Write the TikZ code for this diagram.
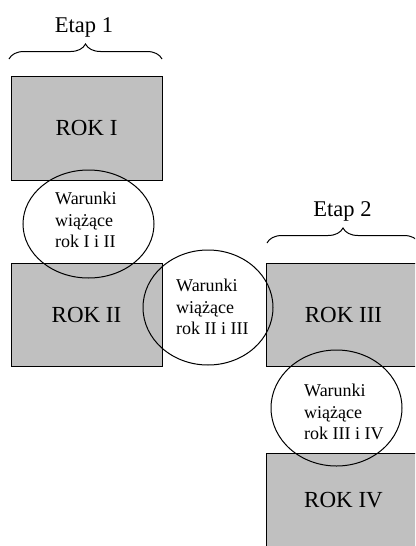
\documentclass[tikz,border=0pt]{standalone}
\usepackage{fontspec}
\setmainfont{Liberation Serif}
\usetikzlibrary{shapes.geometric,decorations.pathreplacing}
\definecolor{boxgray}{RGB}{192,192,192}
\begin{document}
\begin{tikzpicture}[x=1pt,y=-1pt,
  rokbox/.style={draw=black,fill=boxgray,line width=1pt,inner sep=0pt,
    font=\fontsize{23}{27}\selectfont},
  cond/.style={draw=black,line width=1pt,ellipse,inner sep=0pt},
  condtext/.style={anchor=north west,inner sep=0pt,align=left,
    font=\fontsize{18}{21.5}\selectfont},
  stage/.style={anchor=base,inner sep=0pt,font=\fontsize{22.5}{27}\selectfont},
  stagebrace/.style={decorate,decoration={brace,amplitude=15pt},line width=1pt}]
\useasboundingbox (0,0) rectangle (415,546);
\clip (0,0) rectangle (415,546);

% yearly blocks
\node[rokbox,minimum width=151pt,minimum height=104pt] (r1) at (86.5,128) {ROK I};
\node[rokbox,minimum width=151pt,minimum height=103pt] (r2) at (86.5,314.5) {ROK II};
\node[rokbox,minimum width=155pt,minimum height=103pt] (r3) at (343.5,314.5) {ROK III};
\node[rokbox,minimum width=155pt,minimum height=95pt] (r4) at (343.5,500.5) {ROK IV};

% linking conditions between consecutive years
\node[cond,minimum width=131pt,minimum height=108pt] (e1) at (88.5,224) {};
\node[cond,minimum width=130pt,minimum height=115pt] (e2) at (208,307.5) {};
\node[cond,minimum width=131pt,minimum height=116pt] (e3) at (336.5,408) {};

\node[condtext] (t1) at (55,192) {Warunki\\wiążące\\rok I i II};
\node[condtext] (t2) at (176,279) {Warunki\\wiążące\\rok II i III};
\node[condtext] (t3) at (304,384) {Warunki\\wiążące\\rok III i IV};

% stages
\coordinate (b1s) at (9,59);
\coordinate (b1e) at (162,59);
\coordinate (b2s) at (267,243);
\coordinate (b2e) at (419,243);
\draw[stagebrace] (b1s) -- (b1e);
\draw[stagebrace] (b2s) -- (b2e);
\node[stage] (s1) at (84,32) {Etap 1};
\node[stage] (s2) at (342.5,216) {Etap 2};
\end{tikzpicture}
\end{document}
